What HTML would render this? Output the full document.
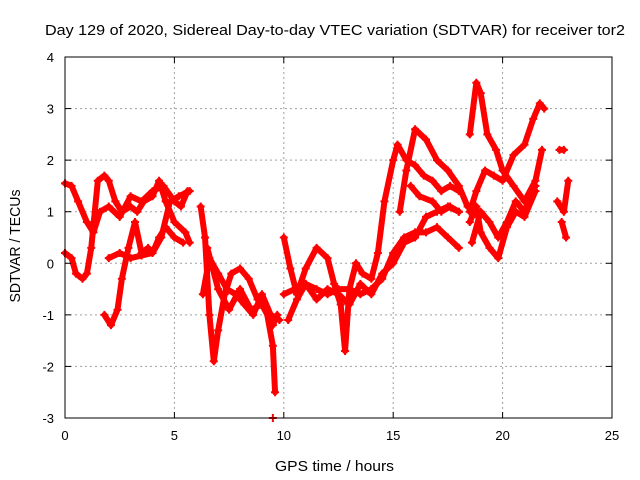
<!DOCTYPE html>
<html><head><meta charset="utf-8"><style>
body{margin:0;background:#fff}
svg{display:block;font-family:"Liberation Sans",sans-serif;font-size:13px}
</style></head><body>
<svg id="chart" width="640" height="480">
<text x="335" y="35" text-anchor="middle" font-size="15" textLength="580" lengthAdjust="spacingAndGlyphs">Day 129 of 2020, Sidereal Day-to-day VTEC variation (SDTVAR) for receiver tor2</text>
<text x="334.5" y="471" text-anchor="middle" font-size="15" textLength="119" lengthAdjust="spacingAndGlyphs">GPS time / hours</text>
<text transform="translate(20,246) rotate(-90)" text-anchor="middle" font-size="15" textLength="113" lengthAdjust="spacingAndGlyphs">SDTVAR / TECUs</text>
<g id="grid"></g><g id="marks"></g><g id="axes"></g>
</svg>
<script>
const xTicks=[0,5,10,15,20,25];
const yTicks=[-3,-2,-1,0,1,2,3,4];
const trackA=[[0,1.55],[0.3,1.5],[0.6,1.2],[1.0,0.8],[1.3,0.6],[1.6,1.0],[2.0,1.1],[2.5,0.9],[3.0,1.3],[3.5,1.2],[4.0,1.4],[4.5,1.5],[5.0,1.2],[5.3,1.1],[5.6,1.4]];
const trackB=[[0,0.2],[0.3,0.1],[0.5,-0.2],[0.8,-0.3],[1.0,-0.2],[1.2,0.3],[1.5,1.6],[1.8,1.7],[2.0,1.6],[2.3,1.2],[2.6,1.0],[3.0,1.1],[3.3,1.0],[3.6,1.2],[4.0,1.3],[4.3,1.6],[4.6,1.2],[5.0,0.8],[5.5,0.6],[5.7,0.4]];
const trackC=[[1.8,-1.0],[2.1,-1.2],[2.4,-0.9],[2.6,-0.3],[2.9,0.3],[3.2,0.8],[3.5,0.2],[3.8,0.3],[4.0,0.2],[4.3,0.5],[4.6,0.7],[5.0,0.5],[5.4,0.4]];
const trackD=[[2,0.1],[2.5,0.2],[3,0.1],[3.5,0.15],[4,0.2],[4.4,0.5],[4.8,1.2],[5.2,1.3],[5.7,1.4]];
const trackE=[[6.2,1.1],[6.4,0.5],[6.6,-1.0],[6.8,-1.9],[7.0,-1.3],[7.3,-0.6],[7.6,-0.2],[8.0,-0.1],[8.4,-0.3],[8.8,-0.7],[9.2,-0.9],[9.5,-1.6],[9.6,-2.5]];
const trackF=[[6.3,-0.6],[6.6,0.1],[7.0,-0.2],[7.4,-0.5],[7.8,-0.6],[8.2,-0.8],[8.6,-1.0],[9.0,-0.6],[9.4,-1.0],[9.8,-1.1]];
const trackG=[[6.5,0.3],[7,-0.5],[7.5,-0.9],[8,-0.5],[8.5,-0.9],[9,-0.8],[9.5,-1.2],[9.7,-1.0]];
const trackPt=[[9.5,-3.0]];
const trackH=[[10.0,0.5],[10.3,-0.1],[10.6,-0.6],[11.0,-0.1],[11.5,0.3],[12.0,0.1],[12.3,-0.4],[12.6,-0.8],[12.8,-1.7],[13.0,-0.5],[13.3,0.0],[13.6,-0.2],[14.0,-0.3],[14.3,0.2],[14.6,1.2],[15.0,2.0],[15.2,2.3],[15.6,2.0],[16.0,1.9],[16.4,1.7],[16.8,1.6],[17.2,1.4],[17.6,1.5],[18.0,1.4]];
const trackI=[[10,-0.6],[10.5,-0.5],[11,-0.4],[11.5,-0.5],[12,-0.6],[12.5,-0.5],[13,-0.5],[13.5,-0.6],[14,-0.5],[14.5,-0.3],[15,0.2],[15.5,0.5],[16,0.6],[16.5,0.6],[17,0.7],[17.5,0.5],[18,0.3]];
const trackJ=[[10.2,-1.1],[10.6,-0.7],[11.0,-0.4],[11.5,-0.7],[12.0,-0.5],[12.5,-0.6],[13,-0.8],[13.5,-0.4],[14,-0.6],[14.5,-0.2],[15,0.0],[15.5,0.4],[16,0.5],[16.5,0.9],[17,1.0],[17.5,1.1],[18,1.0]];
const trackK=[[15.3,1.0],[15.6,1.8],[16,2.6],[16.5,2.4],[17,2.0],[17.5,1.8],[18,1.5],[18.4,1.1]];
const trackL=[[15.8,1.5],[16.2,1.3],[16.8,1.2],[17.2,1.0],[17.6,1.1],[18,1.0]];
const trackM=[[18.5,2.5],[18.8,3.5],[19.0,3.3],[19.3,2.5],[19.7,2.2],[20,1.8],[20.5,1.5],[21,1.2],[21.5,1.6],[21.8,2.2]];
const trackN=[[18.5,1.0],[18.8,1.4],[19.2,1.8],[19.6,1.7],[20,1.6],[20.5,2.1],[21,2.3],[21.4,2.8],[21.7,3.1],[21.9,3.0]];
const trackO=[[18.5,0.8],[18.8,1.1],[19.0,0.6],[19.4,0.3],[19.8,0.1],[20.2,0.7],[20.6,1.0],[21,0.9],[21.5,1.4]];
const trackP=[[18.6,0.4],[19.0,1.0],[19.4,0.8],[19.8,0.5],[20.2,0.8],[20.6,1.2],[21.0,1.0],[21.5,1.5]];
const trackQ=[[22.5,1.2],[22.8,1.0],[23,1.6]];
const trackR=[[22.6,2.2],[22.8,2.2]];
const trackS=[[22.7,0.8],[22.9,0.5]];
const tracks=[trackA,trackB,trackC,trackD,trackE,trackF,trackG,trackPt,trackH,trackI,trackJ,trackK,trackL,trackM,trackN,trackO,trackP,trackQ,trackR,trackS];

const X0=65,X1=612,Y0=418,Y1=57;
const xs=v=>X0+(v-0)/(25-0)*(X1-X0);
const ys=v=>Y0-(v+3)/7*(Y0-Y1);
const NS="http://www.w3.org/2000/svg";
const grid=document.getElementById('grid'),axes=document.getElementById('axes'),marks=document.getElementById('marks');
function mk(tag,attrs,parent){const e=document.createElementNS(NS,tag);for(const k in attrs)e.setAttribute(k,attrs[k]);parent.appendChild(e);return e;}
xTicks.forEach(t=>{
  const x=xs(t);
  if(t>0&&t<25){const g=mk('line',{x1:x,x2:x,y1:Y1,y2:Y0,stroke:'#a0a0a0','stroke-dasharray':'2,3'},grid);
  
  }
  mk('line',{x1:x,x2:x,y1:Y0,y2:Y0-6,stroke:'#000'},axes);
  mk('line',{x1:x,x2:x,y1:Y1,y2:Y1+6,stroke:'#000'},axes);
  const l=mk('text',{x:x,y:Y0+22,'text-anchor':'middle'},axes);l.textContent=t;
  
  
});
yTicks.forEach(t=>{
  const y=ys(t);
  if(t>-3&&t<4){const g=mk('line',{x1:X0,x2:X1,y1:y,y2:y,stroke:'#a0a0a0','stroke-dasharray':'2,3'},grid);
  
  }
  mk('line',{x1:X0,x2:X0+6,y1:y,y2:y,stroke:'#000'},axes);
  mk('line',{x1:X1,x2:X1-6,y1:y,y2:y,stroke:'#000'},axes);
  const l=mk('text',{x:X0-11,y:y+5,'text-anchor':'end'},axes);l.textContent=t;
  
  
});
const frame=mk('rect',{x:X0,y:Y1,width:X1-X0,height:Y0-Y1,fill:'none',stroke:'#000'},axes);


tracks.forEach(tr=>{
  const pl=mk('polyline',{points:tr.map(p=>xs(p[0])+','+ys(p[1])).join(' '),fill:'none',stroke:'#ff0000','stroke-width':6,'stroke-linejoin':'round','stroke-linecap':'round'},marks);
  
  
  tr.forEach(p=>{
    const x=xs(p[0]),y=ys(p[1]);
    const m=mk('path',{d:`M${x-4},${y}H${x+4}M${x},${y-4}V${y+4}`,stroke:'#ff0000','stroke-width':2},marks);
    
    
  });
});
</script>
</body></html>
